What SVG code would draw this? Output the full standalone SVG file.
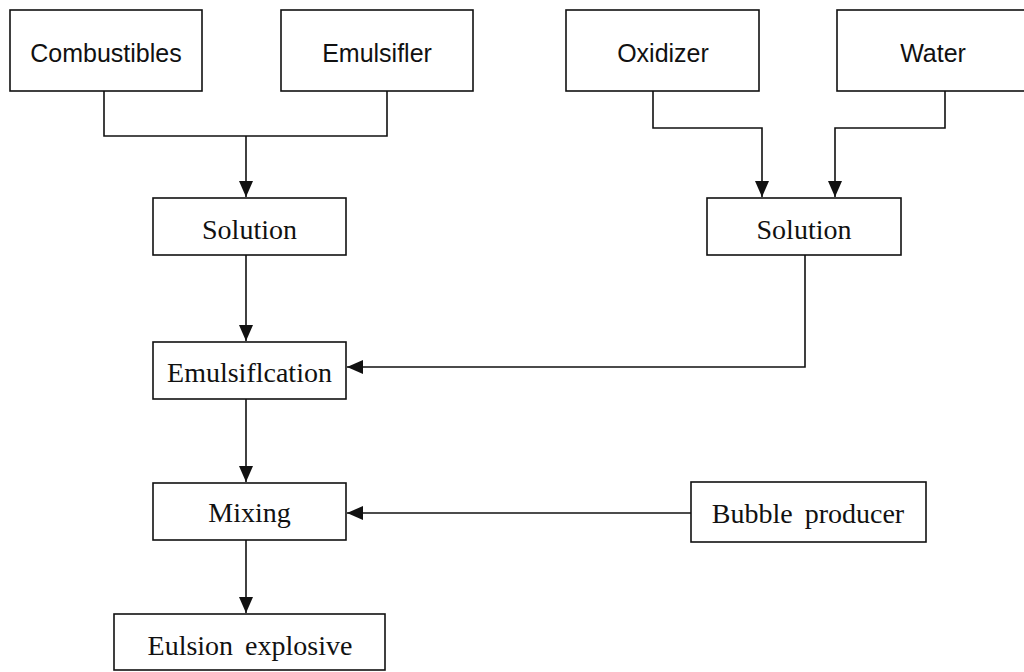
<svg xmlns="http://www.w3.org/2000/svg" width="1024" height="672" viewBox="0 0 1024 672">
<style>
.box{fill:#fff;stroke:#111;stroke-width:1.6}
.sans{font-family:"Liberation Sans",Arial,sans-serif;font-size:25px;fill:#111;text-anchor:middle}
.serif{font-family:"Liberation Serif","Times New Roman",serif;font-size:28px;fill:#111;text-anchor:middle;word-spacing:5px}
.conn{fill:none;stroke:#111;stroke-width:1.6}
</style>
<defs>
<marker id="arr" markerUnits="userSpaceOnUse" markerWidth="17" markerHeight="15" refX="16" refY="7" orient="auto">
<path d="M0,0 L16,7 L0,14 Z" fill="#111"/>
</marker>
</defs>
<rect width="1024" height="672" fill="#fff"/>
<g id="connectors">
<path class="conn" d="M104,91 V136 H387 V91"/>
<path class="conn" d="M246,136 V197" marker-end="url(#arr)"/>
<path class="conn" d="M653,91 V128 H762 V197" marker-end="url(#arr)"/>
<path class="conn" d="M945,91 V128 H835 V197" marker-end="url(#arr)"/>
<path class="conn" d="M246,255 V341" marker-end="url(#arr)"/>
<path class="conn" d="M805,255 V367 H347" marker-end="url(#arr)"/>
<path class="conn" d="M246,399 V482" marker-end="url(#arr)"/>
<path class="conn" d="M691,513 H347" marker-end="url(#arr)"/>
<path class="conn" d="M246,540 V613" marker-end="url(#arr)"/>
</g>
<g id="combustibles"><rect class="box" x="10" y="10" width="192" height="81"/><text class="sans" x="106" y="62">Combustibles</text></g>
<g id="emulsifier"><rect class="box" x="281" y="10" width="192" height="81"/><text class="sans" x="377" y="62">Emulsifler</text></g>
<g id="oxidizer"><rect class="box" x="566" y="10" width="193" height="81"/><text class="sans" x="663" y="62">Oxidizer</text></g>
<g id="water"><rect class="box" x="837" y="10" width="192" height="81"/><text class="sans" x="933" y="62">Water</text></g>
<g id="solution-left"><rect class="box" x="153" y="198" width="193" height="57"/><text class="serif" x="249.5" y="239">Solution</text></g>
<g id="solution-right"><rect class="box" x="707" y="198" width="194" height="57"/><text class="serif" x="804" y="239">Solution</text></g>
<g id="emulsification"><rect class="box" x="153" y="342" width="193" height="57"/><text class="serif" x="249.5" y="382">Emulsiflcation</text></g>
<g id="mixing"><rect class="box" x="153" y="483" width="193" height="57"/><text class="serif" x="249.5" y="522">Mixing</text></g>
<g id="bubble-producer"><rect class="box" x="691" y="482" width="235" height="60"/><text class="serif" x="808" y="523">Bubble producer</text></g>
<g id="emulsion-explosive"><rect class="box" x="114" y="614" width="271" height="56"/><text class="serif" x="250" y="655">Eulsion explosive</text></g>
</svg>
